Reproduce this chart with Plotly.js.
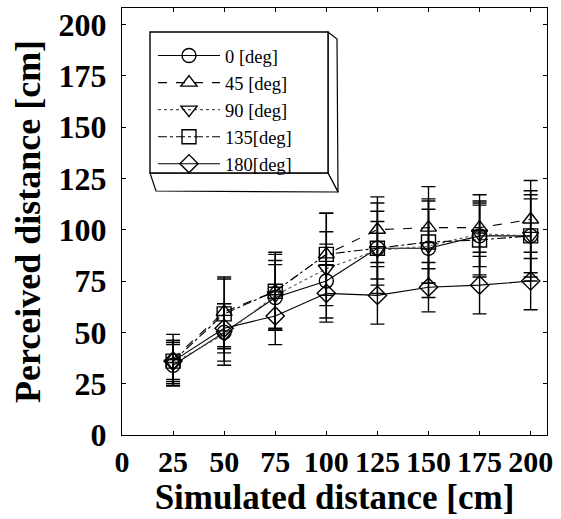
<!DOCTYPE html>
<html><head><meta charset="utf-8">
<script src="https://cdn.plot.ly/plotly-3.0.1.min.js"></script>
<style>body{margin:0;background:#fff}#c{width:561px;height:519px}</style>
</head><body><div id="c"></div>
<script>
const xs = [25, 50, 75, 100, 125, 150, 175, 200];
const names = ['0 [deg]', '45 [deg]', '90 [deg]', '135[deg]', '180[deg]'];
const y0   = [34, 50, 67, 75, 91, 91, 97, 97];
const y45  = [37, 60, 70, 88, 100, 101, 101, 105];
const y90  = [35, 49, 68, 81, 90, 92, 98, 97];
const y135 = [36, 59, 70, 88, 91, 94, 95, 97];
const y180 = [36, 52, 58, 69, 68, 72, 73, 75];
const e0   = [10, 14, 16, 18, 22, 24, 20, 22];
const e45  = [12, 17, 18, 20, 16, 20, 12, 19];
const e90  = [11, 15, 17, 18, 14, 18, 16, 18];
const e135 = [10, 17, 19, 20, 18, 20, 17, 20];
const e180 = [9, 12, 14, 14, 14, 12, 14, 14];
const tickVals = [0, 25, 50, 75, 100, 125, 150, 175, 200];

const ys = [y0, y45, y90, y135, y180];
const es = [e0, e45, e90, e135, e180];
const syms = ['circle-open', 'triangle-up-open', 'triangle-down-open', 'square-open', 'diamond-open'];
const dashes = ['solid', 'dash', 'dot', 'dashdot', 'solid'];
const lineCols = ['#000', '#000', '#555', '#000', '#000'];

const traces = ys.map((y, i) => ({
  x: xs, y: y, name: names[i], type: 'scatter', mode: 'lines+markers',
  line: {color: lineCols[i], width: 1.1, dash: dashes[i]},
  marker: {symbol: syms[i], size: 14, color: '#000', line: {width: 1.4, color: '#000'}},
  error_y: {type: 'data', array: es[i], visible: true, color: '#000', thickness: 1.4, width: 7}
}));

// pixel helpers -> paper coords (plot area: left 122, width 425, top 8, height 427)
const px = v => (v - 122) / 425;
const py = v => (435 - v) / 427;
const P = (pts) => 'M ' + pts.map(p => px(p[0]) + ',' + py(p[1])).join(' L ') + ' Z';

const serif = 'Liberation Serif, Times New Roman, serif';
const layout = {
  width: 561, height: 519,
  margin: {l: 122, r: 14, t: 8, b: 84},
  paper_bgcolor: '#fff', plot_bgcolor: '#fff',
  showlegend: true,
  legend: {x: px(153), y: py(37), xanchor: 'left', yanchor: 'top', bgcolor: 'rgba(0,0,0,0)',
    borderwidth: 0,
    font: {family: serif, size: 18.5, color: '#000'},
    tracegroupgap: 0, itemwidth: 62},
  xaxis: {range: [0, 208], tickvals: tickVals,
    ticks: 'inside', ticklen: 4, tickcolor: '#000', showline: true, linecolor: '#000', linewidth: 1.2, mirror: 'ticks',
    showgrid: false, zeroline: false, ticklabelstandoff: 0,
    tickfont: {family: serif, size: 30, color: '#000', weight: 'bold'},
    title: {text: 'Simulated distance [cm]', font: {family: serif, size: 35, color: '#000', weight: 'bold'}, standoff: 0}},
  yaxis: {range: [0, 208], tickvals: tickVals,
    ticks: 'inside', ticklen: 4, tickcolor: '#000', showline: true, linecolor: '#000', linewidth: 1.2, mirror: 'ticks',
    showgrid: false, zeroline: false, ticklabelstandoff: 8,
    tickfont: {family: serif, size: 32, color: '#000', weight: 'bold'},
    title: {text: 'Perceived distance [cm]', font: {family: serif, size: 36, color: '#000', weight: 'bold'}, standoff: 6}},
  shapes: [
    {type: 'path', xref: 'paper', yref: 'paper', layer: 'above',
     path: P([[328, 32], [337, 39], [338, 192], [328, 173]]), line: {color: '#000', width: 1.2}, fillcolor: '#fff'},
    {type: 'path', xref: 'paper', yref: 'paper', layer: 'above',
     path: P([[150, 173], [156, 191], [338, 192], [328, 173]]), line: {color: '#000', width: 1.2}, fillcolor: '#fff'},
    {type: 'rect', xref: 'paper', yref: 'paper', layer: 'above',
     x0: px(150), x1: px(328), y0: py(173), y1: py(32), line: {color: '#000', width: 1.4}, fillcolor: '#fff'}
  ]
};
Plotly.newPlot('c', traces, layout, {displayModeBar: false, staticPlot: true});
</script></body></html>
